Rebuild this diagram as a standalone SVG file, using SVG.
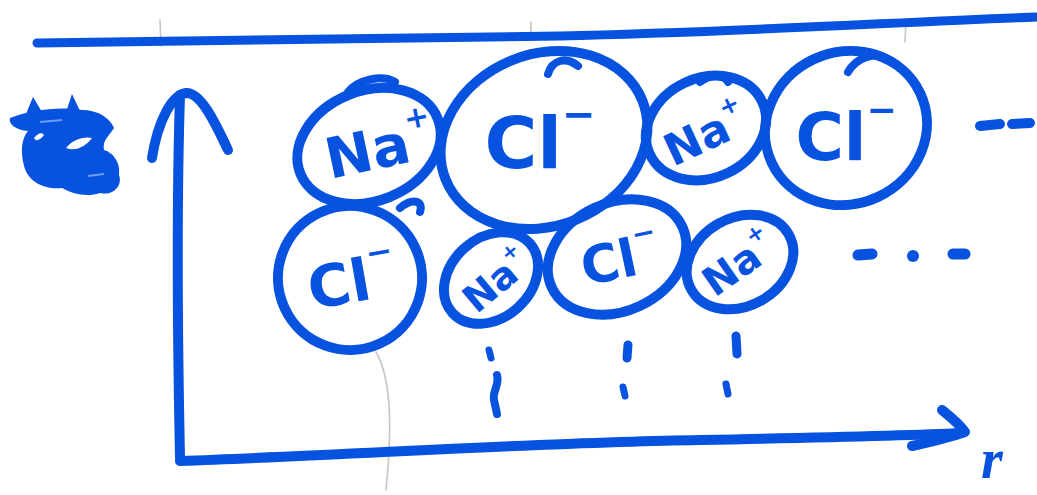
<svg xmlns="http://www.w3.org/2000/svg" width="1037" height="495" viewBox="0 0 1037 495">
<style>
.ink{fill:none;stroke:#0852e0;stroke-linecap:round;stroke-linejoin:round}
.ion{fill:none;stroke:#0852e0;stroke-width:10}
.fill{fill:#0852e0}
.faint{fill:none;stroke:#c9c6c0;stroke-width:1.6;stroke-linecap:round}
.lbl{font-family:"DejaVu Sans","Liberation Sans",sans-serif;font-weight:bold;fill:#0852e0;text-anchor:middle}
</style>
<rect width="1037" height="495" fill="#ffffff"/>
<g id="background-marks">
<path class="faint" d="M160 20 L161 46"/>
<path class="faint" d="M531 22 L531 40"/>
<path class="faint" d="M906 20 L905 42"/>
<path class="faint" d="M376 352 C392 380 392 430 386 490"/>
</g>
<g id="frame-top">
<path class="ink" stroke-width="9" d="M37 43 C200 42 380 40 560 36 C740 32 900 22 1037 17"/>
</g>
<g id="connectors">
<path id="y-axis" class="ink" stroke-width="10" d="M180 458 C178 360 176 220 180 95"/>
<path class="ink" stroke-width="10" d="M152 158 C158 120 172 95 186 93 C200 92 214 120 228 150"/>
<path id="x-axis" class="ink" stroke-width="10" d="M180 461 C350 455 550 442 700 440 C800 438 900 436 962 433"/>
<path class="ink" stroke-width="10" d="M942 410 C952 418 960 425 965 432 C948 438 930 442 912 446"/>
</g>
<g id="scribbled-label">
<path class="fill" d="M10 118 C30 110 60 106 82 110 C98 110 110 118 114 128 C110 135 102 140 104 150 C112 152 121 162 119 175 C123 186 113 196 100 193 C88 197 74 195 62 188 C45 190 28 182 24 166 C20 150 22 138 28 131 C16 130 8 124 10 118 Z"/>
<path class="fill" d="M26 114 L33 97 L42 112 Z M66 112 L72 94 L80 111 Z"/>
<path fill="#ffffff" d="M66 148 C72 140 84 136 92 138 C86 146 76 152 66 148 Z"/>
<path fill="#ffffff" d="M34 138 C38 133 42 132 44 135 C40 140 36 142 34 138 Z"/>
<path fill="none" stroke="#6f9cf0" stroke-width="2" d="M40 122 L62 120 M88 176 L104 174"/>
</g>
<g id="ion-na-1">
<ellipse class="ion" cx="369" cy="146" rx="74" ry="55" transform="rotate(-22 369 146)"/>
<path class="ink" stroke-width="8" d="M348 92 C358 80 382 74 395 82"/>
<text class="lbl" x="380" y="168" font-size="56" transform="rotate(-12 380 150)">Na<tspan font-size="30" dy="-32">+</tspan></text>
</g>
<g id="ion-cl-1">
<ellipse class="ion" cx="544" cy="140" rx="106" ry="86" transform="rotate(-22 544 140)"/>
<path class="ink" stroke-width="8" d="M548 74 C552 60 566 56 578 66"/>
<text class="lbl" x="540" y="168" font-size="72">Cl<tspan font-size="40" dy="-40">−</tspan></text>
</g>
<g id="ion-na-2">
<ellipse class="ion" cx="706" cy="128" rx="62" ry="50" transform="rotate(-25 706 128)"/>
<path class="ink" stroke-width="8" d="M700 82 C710 74 724 74 728 82"/>
<text class="lbl" x="706" y="150" font-size="44" transform="rotate(-25 706 135)">Na<tspan font-size="24" dy="-24">+</tspan></text>
</g>
<g id="ion-cl-2">
<ellipse class="ion" cx="846" cy="128" rx="82" ry="76" transform="rotate(-25 846 128)"/>
<path class="ink" stroke-width="8" d="M848 72 C856 58 874 52 884 58"/>
<text class="lbl" x="846" y="160" font-size="66">Cl<tspan font-size="36" dy="-38">−</tspan></text>
</g>
<g id="ellipsis-top">
<path class="ink" stroke-width="10" d="M980 126 L1000 124"/>
<path class="ink" stroke-width="10" d="M1012 124 L1030 123"/>
</g>
<g id="ion-cl-3">
<ellipse class="ion" cx="350" cy="278" rx="72" ry="72" transform="rotate(-25 350 278)"/>
<path class="ink" stroke-width="8" d="M400 208 C412 198 424 200 420 212"/>
<text class="lbl" x="352" y="302" font-size="58" transform="rotate(-10 352 280)">Cl<tspan font-size="32" dy="-34">−</tspan></text>
</g>
<g id="ion-na-3">
<ellipse class="ion" cx="491" cy="278" rx="52" ry="40" transform="rotate(-42 491 278)"/>
<text class="lbl" x="496" y="294" font-size="38" transform="rotate(-40 496 280)">Na<tspan font-size="20" dy="-20">+</tspan></text>
</g>
<g id="ion-cl-4">
<ellipse class="ion" cx="617" cy="257" rx="72" ry="54" transform="rotate(-25 617 257)"/>
<text class="lbl" x="620" y="278" font-size="52" transform="rotate(-12 620 258)">Cl<tspan font-size="28" dy="-30">−</tspan></text>
</g>
<g id="ion-na-4">
<ellipse class="ion" cx="740" cy="262" rx="56" ry="44" transform="rotate(-30 740 262)"/>
<text class="lbl" x="738" y="278" font-size="40" transform="rotate(-35 738 262)">Na<tspan font-size="22" dy="-22">+</tspan></text>
</g>
<g id="ellipsis-bottom">
<path class="ink" stroke-width="11" d="M858 255 L872 254"/>
<circle class="fill" cx="913" cy="256" r="6"/>
<path class="ink" stroke-width="11" d="M953 254 L965 254"/>
</g>
<g id="dots-below">
<path class="ink" stroke-width="7" d="M489 350 L491 358"/>
<path class="ink" stroke-width="8" d="M497 375 C500 384 492 392 494 400 L497 414"/>
<path class="ink" stroke-width="9" d="M628 345 L627 358"/>
<path class="ink" stroke-width="7" d="M623 387 L625 396"/>
<path class="ink" stroke-width="9" d="M736 336 L737 354"/>
<path class="ink" stroke-width="7" d="M726 384 L728 394"/>
</g>
<g id="axis-label">
<text x="992" y="478" font-family="'Liberation Serif',serif" font-style="italic" font-weight="bold" font-size="56" fill="#0852e0" text-anchor="middle">r</text>
</g>
</svg>
